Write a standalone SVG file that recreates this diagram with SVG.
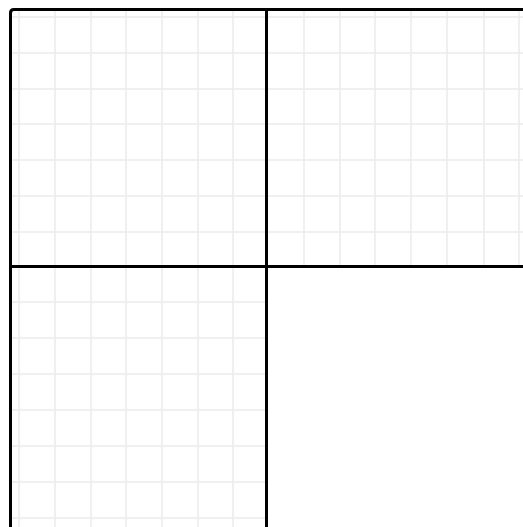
<svg xmlns="http://www.w3.org/2000/svg" width="523" height="527" viewBox="0 0 523 527">
<style>
.g{stroke:#ebebeb;stroke-width:1.5;fill:none}
.b{stroke:#000;stroke-width:3;fill:none;stroke-linecap:square}
</style>
<rect width="523" height="527" fill="#fff"/>
<g id="grid-top-left" class="g">
<path d="M19 10V266M55 10V266M91 10V266M126 10V266M162 10V266M198 10V266M233 10V266"/>
<path d="M10 17H267M10 53H267M10 89H267M10 124H267M10 160H267M10 196H267M10 232H267"/>
</g>
<g id="grid-top-right" class="g">
<path d="M304 10V266M340 10V266M375 10V266M411 10V266M447 10V266M484 10V266M519 10V266"/>
<path d="M267 17H523M267 53H523M267 89H523M267 124H523M267 160H523M267 196H523M267 232H523"/>
</g>
<g id="grid-bottom-left" class="g">
<path d="M19 266V527M55 266V527M91 266V527M126 266V527M162 266V527M198 266V527M233 266V527"/>
<path d="M10 302H267M10 338H267M10 374H267M10 410H267M10 446H267M10 482H267M10 518H267"/>
</g>
<g id="frame">
<path class="b" d="M10.5 527V13Q10.5 9.5 14 9.5H523"/>
<path class="b" d="M266.5 9.5V527"/>
<path class="b" d="M10.5 266.5H523"/>
</g>
</svg>
